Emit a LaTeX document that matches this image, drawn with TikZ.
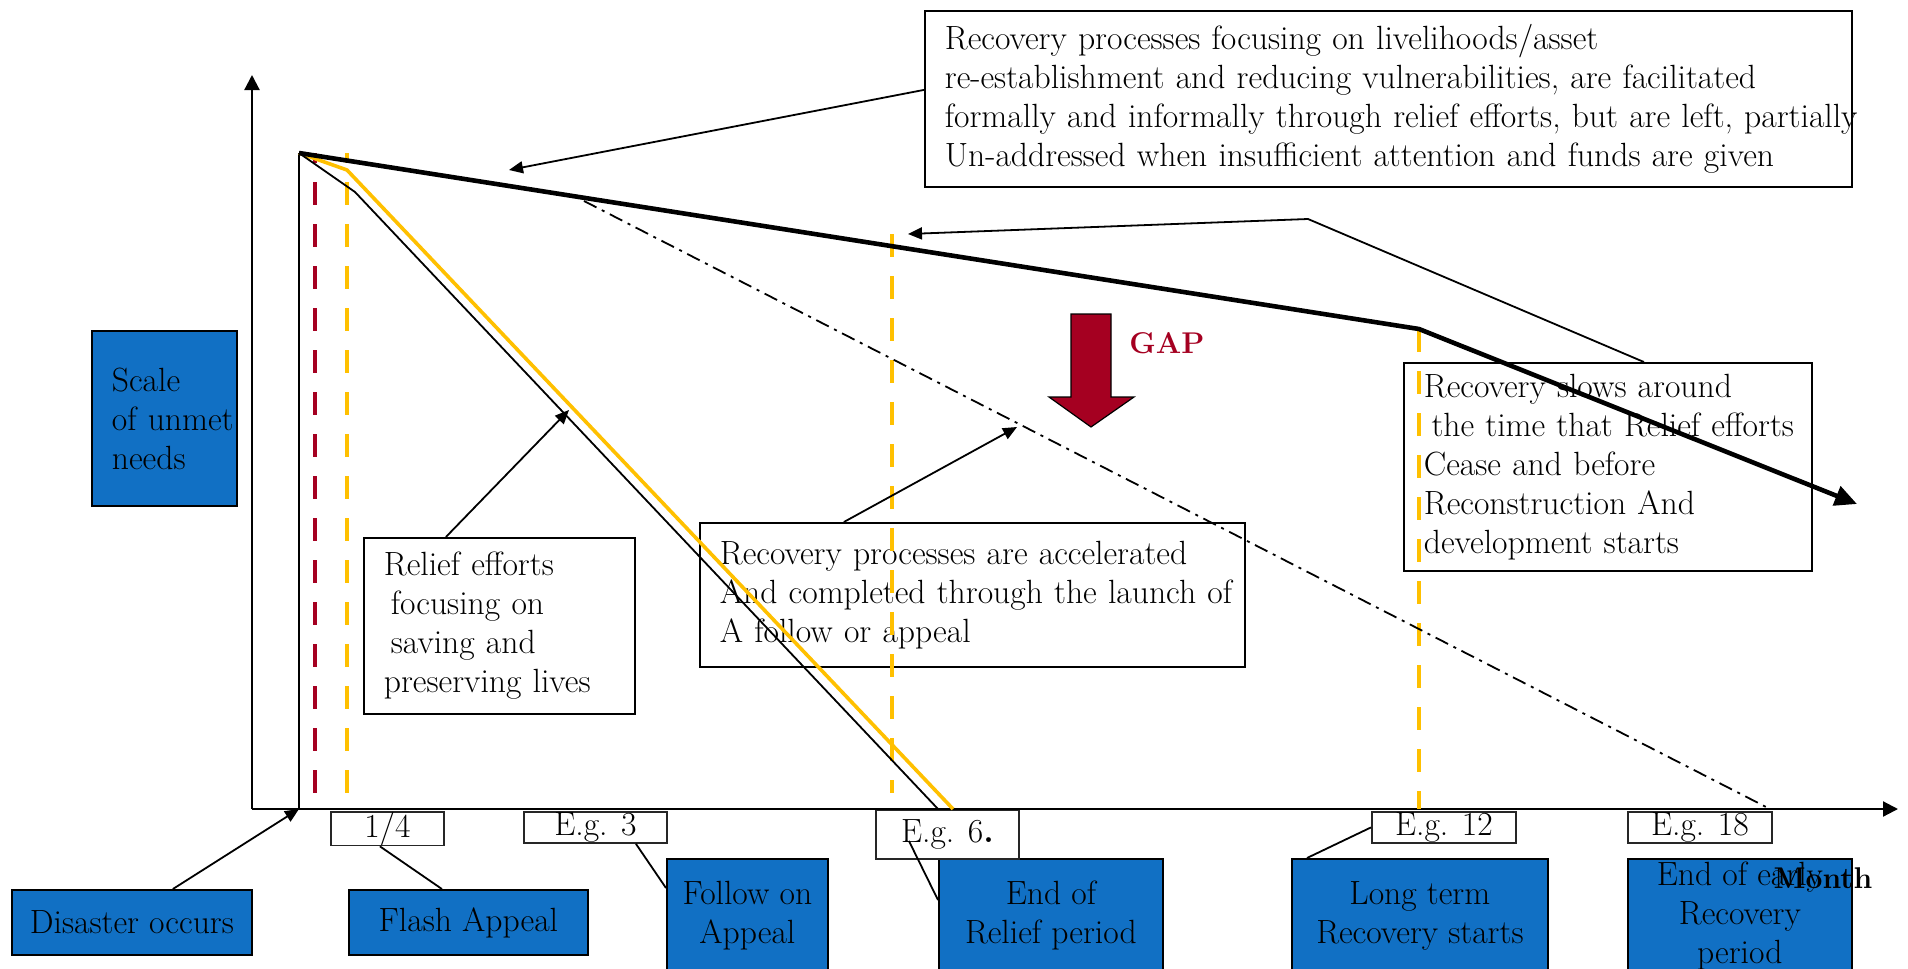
\documentclass[tikz,border=0pt]{standalone}
\usepackage{tikz}
\usetikzlibrary{arrows.meta}
\pgfdeclarelayer{background}
\pgfdeclarelayer{foreground}
\pgfsetlayers{background,main,foreground}
\definecolor{aidblue}{RGB}{17,112,196}
\definecolor{gapred}{RGB}{165,0,33}
\definecolor{aidyellow}{RGB}{255,192,0}
\newcommand{\boxtxt}{\fontsize{16.8}{19.5}\selectfont}

\begin{document}
\begin{tikzpicture}[x=0.5pt,y=-0.5pt,
 note/.style={draw,fill=white,line width=0.9pt,anchor=north west,align=left,inner xsep=10pt,inner ysep=0pt,font=\boxtxt},
 bluebox/.style={draw,fill=aidblue,line width=0.9pt,anchor=north west,align=center,inner sep=0pt,font=\boxtxt},
 tickbox/.style={draw=black!85,fill=white,line width=0.9pt,anchor=north west,inner sep=0pt,minimum height=15.5pt,font=\boxtxt},
 lead/.style={line width=0.9pt},
 tip/.style={lead,-{Triangle[length=7pt,width=6pt]}},
 axis/.style={line width=1.1pt,-{Triangle[length=7.5pt,width=7.5pt]}},
 guide/.style={line width=2pt,dash pattern=on 11.5pt off 9.5pt}]
\useasboundingbox (0,0) rectangle (1908,969);
\begin{pgfonlayer}{background}
\fill[white] (0,0) rectangle (1908,969);
\end{pgfonlayer}
%text boxes
\node[note,minimum width=463.5pt,minimum height=88pt,text width=443.5pt] (livelihood) at (924,10) {Recovery processes focusing on livelihoods/asset\\re-establishment and reducing vulnerabilities, are facilitated\\\mbox{formally and informally through relief efforts, but are left, partially}\\Un-addressed when insufficient attention and funds are given};
\node[note,minimum width=135.5pt,minimum height=88pt,text width=115.5pt] (relief) at (363,537) {Relief efforts\\\hspace*{3.5pt}focusing on\\\hspace*{3.5pt}saving and\\\mbox{preserving lives}};
\node[note,minimum width=272.5pt,minimum height=72pt,text width=252.5pt] (accel) at (699,522) {Recovery processes are accelerated\\\mbox{And completed through the launch of}\\A follow or appeal};
\node[note,minimum width=204pt,minimum height=104pt,text width=184pt] (slows) at (1403,362) {Recovery slows around\\\mbox{\hspace*{3.8pt}the time that Relief efforts}\\Cease and before\\Reconstruction And\\development starts};
%blue boxes
\node[bluebox,align=left,text width=52.5pt,inner xsep=10pt,minimum width=72.5pt,minimum height=87.5pt] (scale) at (91,330) {Scale\\\mbox{of unmet}\\needs};
\node[bluebox,minimum width=120pt,minimum height=32.5pt] (disaster) at (11,889) {Disaster occurs};
\node[bluebox,minimum width=119.5pt,minimum height=32.5pt] (flash) at (348,889) {Flash Appeal};
\node[bluebox,minimum width=80.5pt,minimum height=57pt] (follow) at (666,858) {Follow on\\Appeal};
\node[bluebox,minimum width=112pt,minimum height=57pt] (endrelief) at (938,858) {End of\\Relief period};
\node[bluebox,minimum width=128pt,minimum height=57pt] (longterm) at (1291,858) {Long term\\Recovery starts};
\node[bluebox,minimum width=112pt,minimum height=57pt] (endearly) at (1627,858) {End of early\\Recovery\\period};
%month labels
\node[tickbox,minimum width=56.5pt] (q14) at (330,811) {1/4};
\node[tickbox,minimum width=71.5pt] (eg3) at (523,811) {E.g. 3};
\node[tickbox,minimum width=71.5pt,minimum height=24.5pt] (eg6) at (875,809) {E.g. 6{\bfseries.}};
\node[tickbox,minimum width=72pt] (eg12) at (1371,811) {E.g. 12};
\node[tickbox,minimum width=72pt] (eg18) at (1627,811) {E.g. 18};
%gap
\filldraw[fill=gapred,draw=black,line width=0.6pt] (1071,314) -- (1111,314) -- (1111,397) -- (1134,397) -- (1091,427) -- (1049,397) -- (1071,397) -- cycle;
\node[font=\fontsize{15}{18}\selectfont\bfseries,text=gapred] (gap) at (1167,343) {GAP};
%axes
\coordinate (orig) at (252,809);
\coordinate (ytop) at (252,75);
\coordinate (xend) at (1898,809);
\draw[axis] (orig) -- (ytop);
\draw[axis] (orig) -- (xend);
%curves
\coordinate (peak) at (299,153);
\coordinate (onset) at (299,809);
\coordinate (bend) at (1419,329);
\coordinate (tail) at (1857,504);
\draw[guide,gapred,dash phase=6.5pt] (315,153) -- (315,797);
\draw[guide,aidyellow,dash phase=6.5pt] (347,153) -- (347,797);
\draw[guide,aidyellow] (892,234) -- (892,793);
\draw[guide,aidyellow] (bend) -- (1419,809);
\draw[lead] (peak) -- (onset);
\draw[line width=1.8pt,aidyellow,line join=round] (peak) -- (347,170) -- (953,809);
\draw[lead] (peak) -- (355,192) -- (938,809);
\draw[lead,dash pattern=on 7pt off 3pt on 1.5pt off 3pt] (584,201) -- (1770,809);
\draw[line width=2.3pt,-{Triangle[length=11pt,width=10pt]}] (peak) -- (bend) -- (tail);
%pointers
\coordinate (ptlivelihood) at (509,170);
\coordinate (ptrelief) at (569,410);
\coordinate (ptaccel) at (1017,427);
\coordinate (slowsknee) at (1308,219);
\coordinate (ptslows) at (908,234);
\draw[tip] ([yshift=4.5pt]livelihood.west) -- (ptlivelihood);
\draw[tip] ([xshift=-26.75pt]relief.north) -- (ptrelief);
\draw[tip] ([xshift=-64.25pt]accel.north) -- (ptaccel);
\draw[tip] ([xshift=18pt]slows.north) -- (slowsknee) -- (ptslows);
\draw[tip] ([xshift=20.5pt]disaster.north) -- (onset);
\draw[lead] ([xshift=-3.75pt]q14.south) -- ([xshift=-13.25pt]flash.north);
\draw[lead] ([xshift=20.25pt]eg3.south) -- ([yshift=-15pt]follow.north west);
\draw[lead] ([xshift=-19.25pt,yshift=-3.25pt]eg6.center) -- ([yshift=-21pt]endrelief.north west);
\draw[lead] (eg12.west) -- ([xshift=8pt]longterm.north west);
\begin{pgfonlayer}{foreground}
\node[font=\fontsize{15}{18}\selectfont\bfseries] (month) at (1823,878) {Month};
\end{pgfonlayer}
\end{tikzpicture}
\end{document}
